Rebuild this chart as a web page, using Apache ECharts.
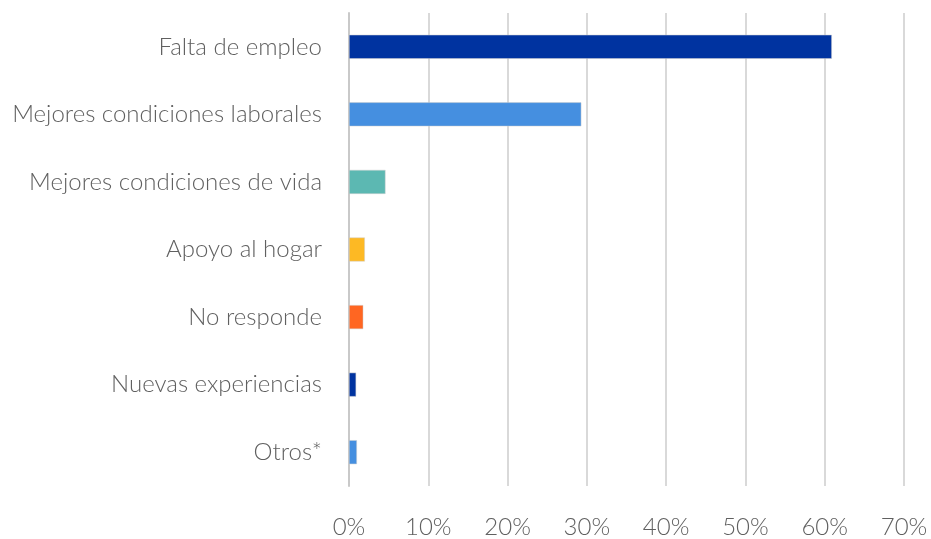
<!DOCTYPE html>
<html>
<head>
<meta charset="utf-8">
<script src="https://cdn.jsdelivr.net/npm/echarts@6/dist/echarts.min.js"></script>
<style>
  html, body { margin: 0; padding: 0; background: #fff; }
</style>
</head>
<body>
<div id="main" style="width:931px;height:539px;"></div>
<script>
// categories from top to bottom
var categories = [
  "Falta de empleo",
  "Mejores condiciones laborales",
  "Mejores condiciones de vida",
  "Apoyo al hogar",
  "No responde",
  "Nuevas experiencias",
  "Otros*"
];
var values = [60.9, 29.3, 4.6, 2.0, 1.8, 0.9, 1.0];
var barColors = ["#0033a0", "#458fe0", "#5cb8b2", "#fdb924", "#ff6622", "#0033a0", "#458fe0"];
var tickValues = [0, 10, 20, 30, 40, 50, 60, 70];

var chart = echarts.init(document.getElementById("main"));

var option = {
  animation: false,
  textStyle: { fontFamily: "Lato" },
  grid: { left: 349, right: 27, top: 13, bottom: 52 },
  xAxis: {
    type: "value",
    min: tickValues[0],
    max: tickValues[tickValues.length - 1],
    interval: 10,
    axisLine: { show: false },
    axisTick: { show: false },
    axisLabel: {
      color: "#606060",
      fontSize: 24,
      fontWeight: 300,
      fontFamily: "Lato",
      margin: 29,
      formatter: function (v) { return v + "%"; }
    },
    splitLine: { show: true, lineStyle: { color: "#d9d9d9", width: 2 } }
  },
  yAxis: {
    type: "category",
    inverse: true,
    data: categories,
    axisLine: { show: true, lineStyle: { color: "#c9c9c9", width: 2 } },
    axisTick: { show: false },
    axisLabel: {
      color: "#606060",
      fontSize: 24,
      fontWeight: 300,
      fontFamily: "Lato",
      margin: 27
    }
  },
  series: [
    {
      type: "bar",
      barWidth: 24,
      data: values.map(function (v, i) {
        return {
          value: v,
          itemStyle: { color: barColors[i], borderColor: "#cfcfcf", borderWidth: 0.5 }
        };
      })
    }
  ]
};

chart.setOption(option);
</script>
</body>
</html>
